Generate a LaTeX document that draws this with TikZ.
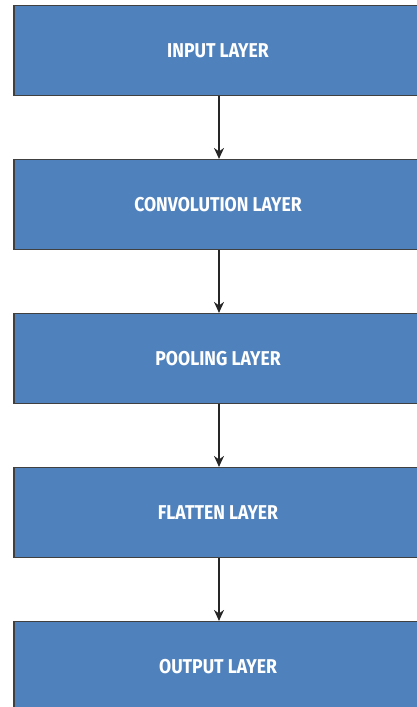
\documentclass[tikz,border=0pt]{standalone}
\usepackage{fontspec}
\setmainfont{Fira Sans}
\newfontfamily\labfont[FakeStretch=0.88]{Fira Sans Bold}
\usetikzlibrary{arrows.meta}
\begin{document}
\begin{tikzpicture}[x=1pt,y=-1pt,
  layerbox/.style={draw=black!75,line width=1.2pt,fill=boxblue,minimum width=408pt,minimum height=90pt,inner sep=0pt,font=\labfont\fontsize{20}{22}\selectfont,text=white},
  conn/.style={draw=black!85,line width=1.3pt,-{Stealth[length=11pt,width=10pt]}}]
\definecolor{boxblue}{HTML}{4F81BD}
\useasboundingbox (0,0) rectangle (416,707);
\node[layerbox] (in) at (218,50.5) {INPUT LAYER};
\node[layerbox] (conv) at (218,204.5) {CONVOLUTION LAYER};
\node[layerbox] (pool) at (218,358.5) {POOLING LAYER};
\node[layerbox] (flat) at (218,512.5) {FLATTEN LAYER};
\node[layerbox] (out) at (218,666.5) {OUTPUT LAYER};
\draw[conn] (in.south) ++(1,0) coordinate (a1) -- (a1 |- conv.north);
\draw[conn] (conv.south) ++(1,0) coordinate (a2) -- (a2 |- pool.north);
\draw[conn] (pool.south) ++(1,0) coordinate (a3) -- (a3 |- flat.north);
\draw[conn] (flat.south) ++(1,0) coordinate (a4) -- (a4 |- out.north);
\end{tikzpicture}
\end{document}
